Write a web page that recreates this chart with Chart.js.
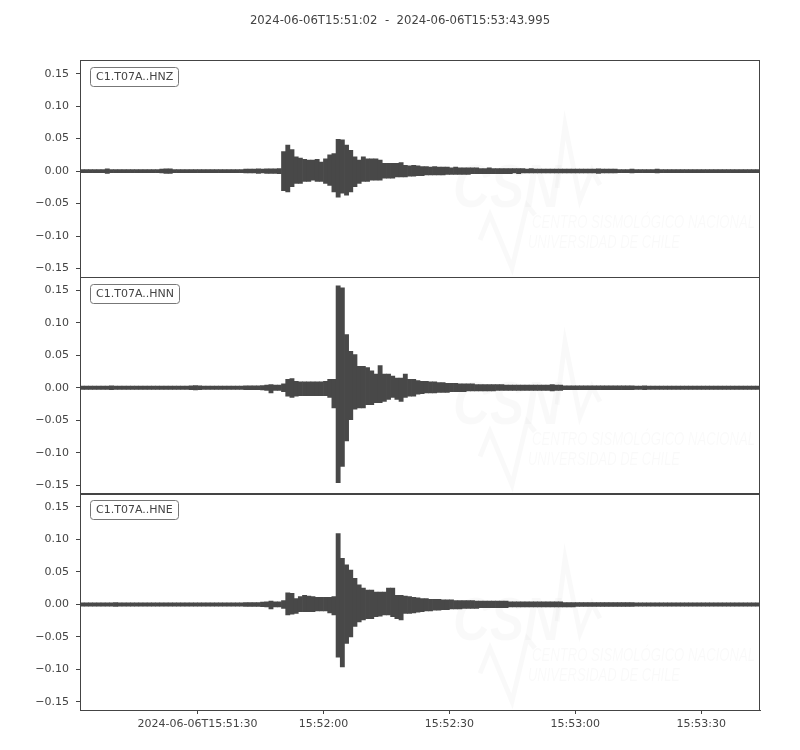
<!DOCTYPE html>
<html>
<head>
<meta charset="utf-8">
<title>C1.T07A</title>
<script src="https://cdn.jsdelivr.net/npm/chart.js@4.4.1/dist/chart.umd.min.js"></script>
<style>
  html, body { margin: 0; padding: 0; background: #fff; }
  #wrap { width: 800px; height: 750px; }
</style>
</head>
<body>
<div id="wrap"><canvas id="sismo" width="800" height="750"></canvas></div>
<script>
// amplitude envelope per 1 s bin (max / min), t = 0 at 15:51:02
const titulo = '2024-06-06T15:51:02  -  2024-06-06T15:53:43.995';
const canales = ['C1.T07A..HNZ', 'C1.T07A..HNN', 'C1.T07A..HNE'];

const hnzMax = [
  0.0025,0.0025,0.0025,0.0025,0.0025,0.0025,0.0035,0.0025,0.0025,0.0025,
  0.0025,0.0025,0.0025,0.0025,0.0025,0.0025,0.0025,0.0025,0.0025,0.003,
  0.0035,0.0035,0.0025,0.0025,0.0025,0.0025,0.0025,0.0025,0.0025,0.0025,
  0.0025,0.0025,0.0025,0.0025,0.0025,0.0025,0.0025,0.0025,0.0025,0.003,
  0.003,0.003,0.0035,0.003,0.0035,0.0035,0.0035,0.004,0.030,0.040,
  0.033,0.022,0.020,0.018,0.017,0.017,0.018,0.014,0.019,0.025,
  0.027,0.049,0.048,0.040,0.032,0.022,0.017,0.022,0.019,0.019,
  0.019,0.017,0.012,0.012,0.012,0.012,0.013,0.009,0.008,0.009,
  0.008,0.007,0.007,0.006,0.007,0.006,0.006,0.006,0.005,0.006,
  0.005,0.005,0.005,0.005,0.005,0.004,0.004,0.005,0.004,0.004,
  0.004,0.004,0.004,0.004,0.004,0.004,0.003,0.004,0.003,0.003,
  0.003,0.003,0.003,0.003,0.003,0.003,0.003,0.003,0.003,0.003,
  0.003,0.003,0.003,0.0035,0.003,0.003,0.003,0.003,0.0025,0.0025,
  0.0025,0.003,0.0025,0.0025,0.0025,0.0025,0.0025,0.003,0.0025,0.0025,
  0.0025,0.0025,0.0025,0.0025,0.0025,0.0025,0.0025,0.0025,0.0025,0.0025,
  0.0025,0.0025,0.0025,0.0025,0.0025,0.0025,0.0025,0.0025,0.0025,0.0025,
  0.0025,0.0025
];
const hnzMin = [
  -0.0025,-0.0025,-0.0025,-0.0025,-0.0025,-0.0025,-0.0035,-0.0025,-0.0025,-0.0025,
  -0.0025,-0.0025,-0.0025,-0.0025,-0.0025,-0.0025,-0.0025,-0.0025,-0.0025,-0.003,
  -0.0035,-0.0035,-0.0025,-0.0025,-0.0025,-0.0025,-0.0025,-0.0025,-0.0025,-0.0025,
  -0.0025,-0.0025,-0.0025,-0.0025,-0.0025,-0.0025,-0.0025,-0.0025,-0.0025,-0.003,
  -0.003,-0.003,-0.0035,-0.003,-0.0035,-0.0035,-0.0035,-0.004,-0.030,-0.032,
  -0.024,-0.019,-0.019,-0.016,-0.016,-0.014,-0.016,-0.016,-0.019,-0.022,
  -0.032,-0.040,-0.034,-0.037,-0.032,-0.024,-0.019,-0.016,-0.016,-0.014,
  -0.014,-0.014,-0.011,-0.011,-0.011,-0.009,-0.009,-0.009,-0.008,-0.008,
  -0.007,-0.007,-0.006,-0.006,-0.006,-0.006,-0.006,-0.005,-0.005,-0.005,
  -0.005,-0.005,-0.005,-0.004,-0.004,-0.004,-0.004,-0.004,-0.004,-0.004,
  -0.004,-0.004,-0.004,-0.003,-0.004,-0.003,-0.003,-0.003,-0.003,-0.003,
  -0.003,-0.003,-0.003,-0.003,-0.003,-0.003,-0.003,-0.003,-0.003,-0.003,
  -0.003,-0.003,-0.003,-0.0035,-0.003,-0.003,-0.003,-0.003,-0.0025,-0.0025,
  -0.0025,-0.003,-0.0025,-0.0025,-0.0025,-0.0025,-0.0025,-0.003,-0.0025,-0.0025,
  -0.0025,-0.0025,-0.0025,-0.0025,-0.0025,-0.0025,-0.0025,-0.0025,-0.0025,-0.0025,
  -0.0025,-0.0025,-0.0025,-0.0025,-0.0025,-0.0025,-0.0025,-0.0025,-0.0025,-0.0025,
  -0.0025,-0.0025
];

const hnnMax = [
  0.0025,0.0025,0.0025,0.0025,0.0025,0.0025,0.0025,0.003,0.0025,0.0025,
  0.0025,0.0025,0.0025,0.0025,0.0025,0.0025,0.0025,0.0025,0.0025,0.0025,
  0.0025,0.0025,0.0025,0.0025,0.0025,0.0025,0.003,0.0035,0.003,0.0025,
  0.0025,0.0025,0.0025,0.0025,0.0025,0.0025,0.0025,0.0025,0.0025,0.003,
  0.003,0.003,0.003,0.0035,0.004,0.005,0.004,0.004,0.006,0.013,
  0.014,0.010,0.009,0.009,0.009,0.009,0.009,0.009,0.010,0.013,
  0.013,0.157,0.154,0.082,0.056,0.051,0.033,0.033,0.031,0.026,
  0.021,0.034,0.021,0.021,0.018,0.015,0.015,0.021,0.013,0.013,
  0.011,0.010,0.010,0.009,0.009,0.008,0.008,0.007,0.007,0.007,
  0.006,0.006,0.006,0.006,0.005,0.005,0.005,0.005,0.005,0.005,
  0.005,0.004,0.004,0.004,0.004,0.004,0.004,0.004,0.004,0.004,
  0.004,0.004,0.005,0.004,0.004,0.003,0.003,0.003,0.003,0.003,
  0.003,0.003,0.003,0.003,0.003,0.003,0.003,0.003,0.003,0.003,
  0.003,0.003,0.0025,0.0025,0.003,0.0025,0.0025,0.0025,0.0025,0.0025,
  0.0025,0.0025,0.0025,0.0025,0.0025,0.0025,0.0025,0.0025,0.0025,0.0025,
  0.0025,0.0025,0.0025,0.0025,0.0025,0.0025,0.0025,0.0025,0.0025,0.0025,
  0.0025,0.0025
];
const hnnMin = [
  -0.0025,-0.0025,-0.0025,-0.0025,-0.0025,-0.0025,-0.0025,-0.003,-0.0025,-0.0025,
  -0.0025,-0.0025,-0.0025,-0.0025,-0.0025,-0.0025,-0.0025,-0.0025,-0.0025,-0.0025,
  -0.0025,-0.0025,-0.0025,-0.0025,-0.0025,-0.0025,-0.003,-0.0035,-0.003,-0.0025,
  -0.0025,-0.0025,-0.0025,-0.0025,-0.0025,-0.0025,-0.0025,-0.0025,-0.0025,-0.003,
  -0.003,-0.003,-0.003,-0.0035,-0.004,-0.008,-0.004,-0.004,-0.006,-0.013,
  -0.015,-0.013,-0.012,-0.012,-0.012,-0.012,-0.012,-0.012,-0.012,-0.015,
  -0.031,-0.146,-0.121,-0.082,-0.049,-0.033,-0.031,-0.031,-0.026,-0.026,
  -0.023,-0.023,-0.021,-0.018,-0.015,-0.018,-0.021,-0.015,-0.013,-0.013,
  -0.010,-0.009,-0.008,-0.008,-0.008,-0.007,-0.007,-0.007,-0.006,-0.006,
  -0.006,-0.006,-0.005,-0.005,-0.005,-0.005,-0.005,-0.005,-0.005,-0.004,
  -0.004,-0.004,-0.004,-0.004,-0.004,-0.004,-0.004,-0.004,-0.004,-0.004,
  -0.004,-0.004,-0.005,-0.004,-0.004,-0.003,-0.003,-0.003,-0.003,-0.003,
  -0.003,-0.003,-0.003,-0.003,-0.003,-0.003,-0.003,-0.003,-0.003,-0.003,
  -0.003,-0.003,-0.0025,-0.0025,-0.003,-0.0025,-0.0025,-0.0025,-0.0025,-0.0025,
  -0.0025,-0.0025,-0.0025,-0.0025,-0.0025,-0.0025,-0.0025,-0.0025,-0.0025,-0.0025,
  -0.0025,-0.0025,-0.0025,-0.0025,-0.0025,-0.0025,-0.0025,-0.0025,-0.0025,-0.0025,
  -0.0025,-0.0025
];

const hneMax = [
  0.0025,0.0025,0.0025,0.0025,0.0025,0.0025,0.0025,0.0025,0.003,0.0025,
  0.0025,0.0025,0.0025,0.0025,0.0025,0.0025,0.0025,0.0025,0.0025,0.0025,
  0.0025,0.0025,0.0025,0.0025,0.0025,0.0025,0.0025,0.0025,0.0025,0.0025,
  0.0025,0.0025,0.0025,0.0025,0.0025,0.0025,0.0025,0.0025,0.0025,0.003,
  0.003,0.003,0.003,0.0035,0.004,0.005,0.004,0.004,0.006,0.018,
  0.017,0.009,0.012,0.014,0.013,0.012,0.011,0.011,0.011,0.011,
  0.012,0.109,0.071,0.061,0.053,0.040,0.030,0.025,0.022,0.022,
  0.019,0.019,0.019,0.025,0.025,0.014,0.014,0.013,0.012,0.011,
  0.010,0.009,0.009,0.008,0.008,0.008,0.007,0.007,0.007,0.006,
  0.006,0.006,0.006,0.006,0.005,0.005,0.005,0.005,0.005,0.005,
  0.005,0.005,0.004,0.004,0.004,0.004,0.004,0.004,0.004,0.004,
  0.004,0.004,0.004,0.004,0.004,0.003,0.003,0.003,0.003,0.003,
  0.003,0.003,0.003,0.003,0.003,0.003,0.003,0.003,0.003,0.003,
  0.003,0.003,0.0025,0.0025,0.0025,0.0025,0.0025,0.0025,0.0025,0.0025,
  0.0025,0.0025,0.0025,0.0025,0.0025,0.0025,0.0025,0.0025,0.0025,0.0025,
  0.0025,0.0025,0.0025,0.0025,0.0025,0.0025,0.0025,0.0025,0.0025,0.0025,
  0.0025,0.0025
];
const hneMin = [
  -0.0025,-0.0025,-0.0025,-0.0025,-0.0025,-0.0025,-0.0025,-0.0025,-0.003,-0.0025,
  -0.0025,-0.0025,-0.0025,-0.0025,-0.0025,-0.0025,-0.0025,-0.0025,-0.0025,-0.0025,
  -0.0025,-0.0025,-0.0025,-0.0025,-0.0025,-0.0025,-0.0025,-0.0025,-0.0025,-0.0025,
  -0.0025,-0.0025,-0.0025,-0.0025,-0.0025,-0.0025,-0.0025,-0.0025,-0.0025,-0.003,
  -0.003,-0.003,-0.003,-0.0035,-0.004,-0.007,-0.004,-0.004,-0.006,-0.016,
  -0.015,-0.014,-0.011,-0.011,-0.011,-0.011,-0.010,-0.010,-0.010,-0.013,
  -0.016,-0.081,-0.096,-0.060,-0.050,-0.034,-0.027,-0.024,-0.022,-0.022,
  -0.019,-0.018,-0.016,-0.016,-0.019,-0.022,-0.024,-0.014,-0.014,-0.013,
  -0.012,-0.011,-0.010,-0.010,-0.009,-0.009,-0.008,-0.008,-0.007,-0.007,
  -0.007,-0.006,-0.006,-0.006,-0.006,-0.005,-0.005,-0.005,-0.005,-0.005,
  -0.005,-0.005,-0.004,-0.004,-0.004,-0.004,-0.004,-0.004,-0.004,-0.004,
  -0.004,-0.004,-0.004,-0.004,-0.004,-0.004,-0.004,-0.004,-0.003,-0.003,
  -0.003,-0.003,-0.003,-0.003,-0.003,-0.003,-0.003,-0.003,-0.003,-0.003,
  -0.003,-0.003,-0.0025,-0.0025,-0.0025,-0.0025,-0.0025,-0.0025,-0.0025,-0.0025,
  -0.0025,-0.0025,-0.0025,-0.0025,-0.0025,-0.0025,-0.0025,-0.0025,-0.0025,-0.0025,
  -0.0025,-0.0025,-0.0025,-0.0025,-0.0025,-0.0025,-0.0025,-0.0025,-0.0025,-0.0025,
  -0.0025,-0.0025
];

const yTicks = [-0.15, -0.10, -0.05, 0.0, 0.05, 0.10, 0.15];
const xTickSecs = [28, 58, 88, 118, 148];
const xTickLabels = ['2024-06-06T15:51:30', '15:52:00', '15:52:30', '15:53:00', '15:53:30'];

const yMin = -0.1625, yMax = 0.171;
const gris = '#444';
const traza = '#484848';
const fuente = { family: 'DejaVu Sans', size: 11 };

// floating bars: one bar per second, from the min to the max of that second
function bins(maxs, mins) {
  return maxs.map((v, i) => ({ x: i + 0.5, y: [mins[i], v] }));
}

function ejeY(peso) {
  return {
    type: 'linear',
    position: 'left',
    stack: 'trazas',
    stackWeight: 1,
    weight: peso,
    min: yMin,
    max: yMax,
    offset: false,
    afterFit: s => { s.width = 80; },
    afterBuildTicks: s => { s.ticks = yTicks.map(v => ({ value: v })); },
    grid: { drawOnChartArea: false, drawTicks: true, tickLength: 4, color: gris },
    border: { display: true, color: gris },
    ticks: {
      color: gris, font: fuente, padding: 7,
      callback: v => (v < 0 ? '\u2212' : '') + Math.abs(v).toFixed(2)
    }
  };
}

const marco = {
  id: 'marco',
  beforeDatasetsDraw(chart) {
    // faint CSN watermark in each panel
    const ctx = chart.ctx, L = chart.chartArea.left, W = chart.chartArea.width;
    ['yZ', 'yN', 'yE'].forEach(id => {
      const s = chart.scales[id];
      const T = s.top;
      ctx.save();
      ctx.beginPath();
      ctx.rect(L, T, W, s.bottom - T);
      ctx.clip();
      ctx.fillStyle = 'rgba(0,0,0,0.022)';
      ctx.strokeStyle = 'rgba(0,0,0,0.022)';
      ctx.textBaseline = 'alphabetic';
      ctx.font = 'italic bold 62px "Liberation Sans"';
      ctx.fillText('CSN', L + 373, T + 147, 108);
      ctx.font = 'italic 18px "Liberation Sans Narrow", "Liberation Sans"';
      ctx.fillText('CENTRO SISMOLÓGICO NACIONAL', L + 452, T + 168, 223);
      ctx.fillText('UNIVERSIDAD DE CHILE', L + 448, T + 188, 152);
      ctx.lineWidth = 5;
      ctx.beginPath();
      ctx.moveTo(L + 477, T + 128); ctx.lineTo(L + 485, T + 65);
      ctx.lineTo(L + 500, T + 140); ctx.lineTo(L + 512, T + 110); ctx.lineTo(L + 520, T + 125);
      ctx.stroke();
      ctx.beginPath();
      ctx.moveTo(L + 400, T + 180); ctx.lineTo(L + 410, T + 155);
      ctx.lineTo(L + 432, T + 208); ctx.lineTo(L + 447, T + 145); ctx.lineTo(L + 455, T + 155);
      ctx.stroke();
      ctx.restore();
    });
  },
  afterDraw(chart) {
    const ctx = chart.ctx, a = chart.chartArea;
    ctx.save();
    ctx.lineWidth = 1;
    ['yZ', 'yN', 'yE'].forEach((id, k) => {
      const s = chart.scales[id];
      const top = Math.round(s.top);
      ctx.strokeStyle = gris;
      ctx.strokeRect(a.left + 0.5, top + 0.5, a.width - 1, Math.round(s.bottom - s.top));
      // channel label box
      ctx.font = '11px "DejaVu Sans"';
      const w = ctx.measureText(canales[k]).width + 11;
      ctx.beginPath();
      ctx.roundRect(a.left + 10.5, top + 7.5, Math.round(w), 19, 3);
      ctx.fillStyle = '#fff';
      ctx.fill();
      ctx.strokeStyle = '#777';
      ctx.stroke();
      ctx.fillStyle = gris;
      ctx.textAlign = 'left';
      ctx.textBaseline = 'middle';
      ctx.fillText(canales[k], a.left + 16, top + 17.5);
    });
    ctx.font = '11.7px "DejaVu Sans"';
    ctx.fillStyle = gris;
    ctx.textAlign = 'center';
    ctx.textBaseline = 'middle';
    ctx.fillText(titulo, 400, 21);
    ctx.restore();
  }
};

function serie(maxs, mins, eje) {
  return {
    data: bins(maxs, mins),
    yAxisID: eje,
    xAxisID: 'x',
    backgroundColor: traza,
    borderWidth: 0,
    grouped: false,
    barPercentage: 1,
    categoryPercentage: 1
  };
}

new Chart(document.getElementById('sismo'), {
  type: 'bar',
  data: {
    datasets: [
      serie(hnzMax, hnzMin, 'yZ'),
      serie(hnnMax, hnnMin, 'yN'),
      serie(hneMax, hneMin, 'yE')
    ]
  },
  options: {
    responsive: false,
    devicePixelRatio: 1,
    animation: false,
    layout: { padding: { top: 60, right: 40, left: 0, bottom: 0 } },
    plugins: { legend: { display: false }, tooltip: { enabled: false }, title: { display: false } },
    scales: {
      x: {
        type: 'linear',
        min: 0,
        max: 162,
        offset: false,
        afterFit: s => { s.height = 40; },
        afterBuildTicks: s => { s.ticks = xTickSecs.map(v => ({ value: v })); },
        grid: { drawOnChartArea: false, offset: false, drawTicks: true, tickLength: 4, color: gris },
        border: { display: true, color: gris },
        ticks: {
          color: gris, font: fuente, padding: 4, maxRotation: 0, autoSkip: false,
          callback: (v, i) => xTickLabels[i]
        }
      },
      yZ: ejeY(3),
      yN: ejeY(2),
      yE: ejeY(1)
    }
  },
  plugins: [marco]
});
</script>
</body>
</html>
